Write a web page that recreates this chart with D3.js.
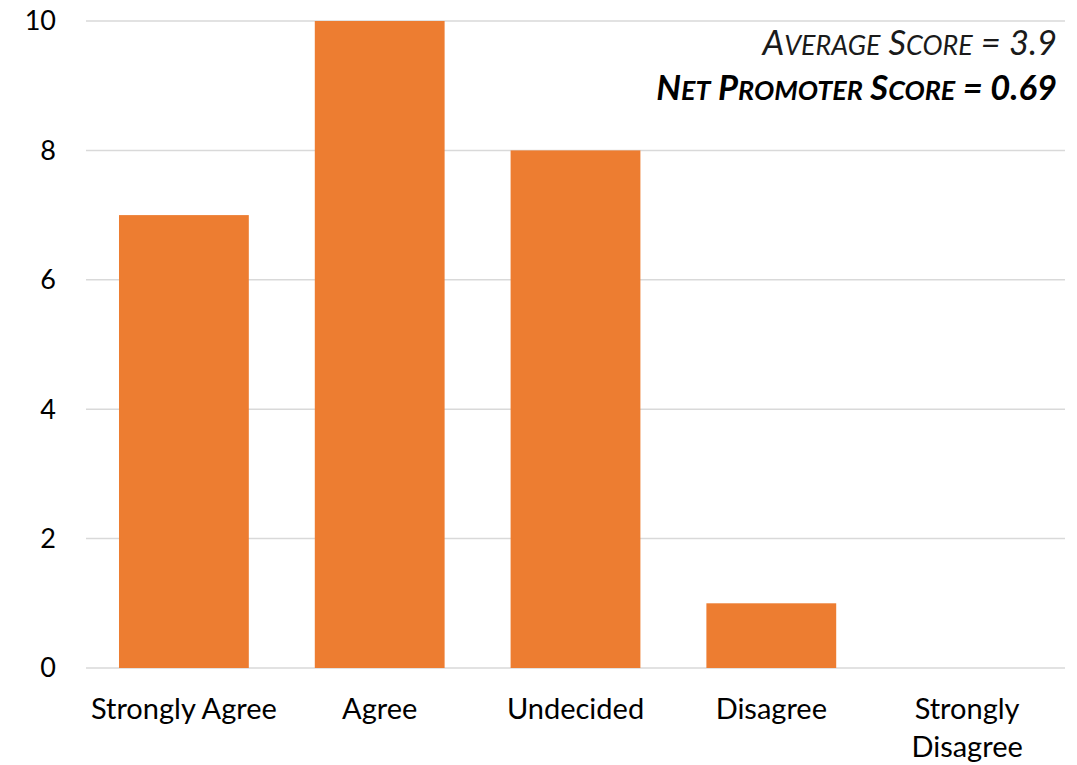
<!DOCTYPE html>
<html><head><meta charset="utf-8">
<script src="https://cdn.jsdelivr.net/npm/d3@7"></script>
<style>body{margin:0;background:#fff}svg{display:block}text{font-family:Lato,"Open Sans",sans-serif}</style>
</head><body>
<svg id="c" width="1077" height="765"></svg>
<script>
const categories = ["Strongly Agree","Agree","Undecided","Disagree","Strongly Disagree"];
const values = [7,10,8,1,0];
const yTicks = [0,2,4,6,8,10];
const annotations = ["Average Score = 3.9","Net Promoter Score = 0.69"];

const svg = d3.select("#c");
const L=86, R=1065, T=21, B=668;
const x = d3.scaleBand().domain(categories).range([L,R]).paddingInner(0.337).paddingOuter(0.1685);
const y = d3.scaleLinear().domain([0,10]).range([B,T]);

svg.append("g").selectAll("line").data(yTicks).join("line")
  .attr("x1",L).attr("x2",R).attr("y1",d=>y(d)).attr("y2",d=>y(d))
  .attr("stroke","#d9d9d9").attr("stroke-width",1.5);

svg.append("g").selectAll("rect").data(values).join("rect")
  .attr("x",(d,i)=>x(categories[i])).attr("width",x.bandwidth())
  .attr("y",d=>y(d)).attr("height",d=>B-y(d)).attr("fill","#ED7D31");

svg.append("g").selectAll("text").data(yTicks).join("text")
  .attr("x",56).attr("y",d=>y(d)).attr("dy","0.35em").attr("text-anchor","end")
  .attr("font-size",27).attr("fill","#000").text(d=>d);

const lab = svg.append("g").selectAll("text").data(categories).join("text")
  .attr("text-anchor","middle").attr("font-size",29).attr("fill","#000")
  .attr("transform",d=>`translate(${x(d)+x.bandwidth()/2},719)`);
lab.each(function(d){
  const words = d==="Strongly Disagree" ? ["Strongly","Disagree"] : [d];
  d3.select(this).selectAll("tspan").data(words).join("tspan")
    .attr("x",0).attr("dy",(w,i)=>i?38:0).text(w=>w);
});

function smallCaps(sel, str, size){
  const runs=[];
  for(const ch of str){
    const low = ch!==ch.toUpperCase();
    const last = runs[runs.length-1];
    if(last && last.low===low) last.t+=ch; else runs.push({low,t:ch});
  }
  sel.selectAll("tspan").data(runs).join("tspan")
    .attr("font-size",r=>r.low?size*0.78:size).text(r=>r.t.toUpperCase());
}
smallCaps(svg.append("text").attr("x",1057).attr("y",55).attr("text-anchor","end")
  .attr("font-style","italic").attr("fill","#1a1a1a"), annotations[0], 34.5);
smallCaps(svg.append("text").attr("x",1057).attr("y",100).attr("text-anchor","end")
  .attr("font-style","italic").attr("font-weight","bold").attr("fill","#000"), annotations[1], 34.5);
</script>
</body></html>
